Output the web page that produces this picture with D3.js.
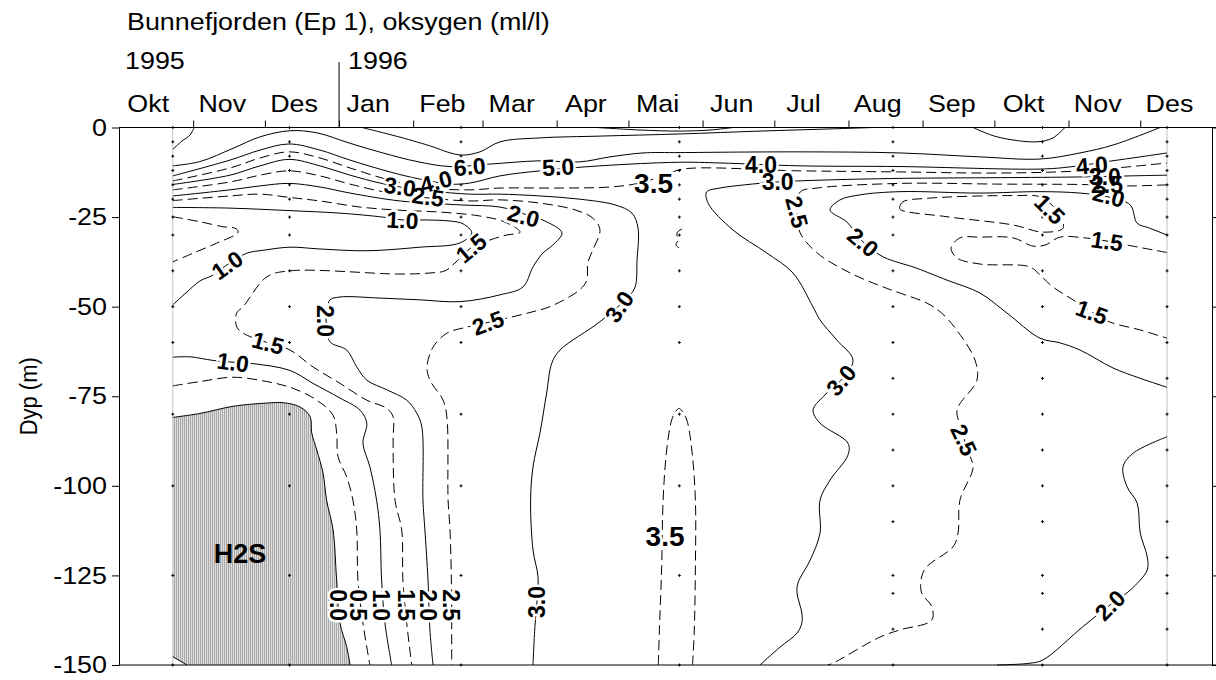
<!DOCTYPE html>
<html>
<head>
<meta charset="utf-8">
<title>Bunnefjorden oksygen</title>
<script src="https://d3js.org/d3.v7.min.js"></script>
<style>
  body { margin: 0; background: #fff; }
  svg { display: block; }
  text { font-family: "Liberation Sans", Arial, sans-serif; }
</style>
</head>
<body>
<svg id="chart" width="1216" height="680"></svg>
<script>
// ---- data: days since 1 Oct 1995, depth in m ----
const months = ["Jan","Feb","Mar","Apr","Mai","Jun","Jul","Aug","Sep","Okt","Nov","Des"];
const depthTicks = [0, -25, -50, -75, -100, -125, -150];

const stationDays = [22.5, 71.3, 143, 234.3, 323.6, 386.1, 438.2];
const depthsA = [0,4,8,12,16,20,25,30,40,50,60,80,100,125,150];
const depthsB = [0,4,8,12,16,20,25,30,40,50,60,70,80,90,100,110,125,130,140,150];
const depthsC = [0,4,8,12,16,20,25,30,40,50,60,70,80,90,100,110,120,125,130,140,150];
const stationDepths = [depthsA, depthsA, depthsA, depthsA, depthsB, depthsB, depthsC];

// contour lines [day, depth]
const c60tl = [[31.4,0],[29.7,-2.1],[26.3,-3.8],[22.5,-6.1]];
const c60top = [[101.6,0],[117.5,-2.7],[131.3,-5.4],[137.1,-6.8],[143.4,-7.7],[150.9,-6.8],[159.3,-4],[176,-2.9],[201.1,-2.4],[234.6,-1.8],[268,-1],[297.3,-0.4],[315.3,0]];
const c70may = [[199.8,0],[217.9,-0.7],[234.6,-1],[247.1,-0.7],[256.7,0]];
const c60okt = [[357.1,0],[367.1,-2.6],[383.8,-4],[390.5,-2.9],[395.5,0]];
const c50 = [[22.5,-10.7],[33.9,-9.5],[47.7,-5.8],[59,-2.6],[71.5,-0.9],[82.8,-1.5],[96.6,-4.4],[110.3,-7.1],[124.6,-9.5],[138.4,-10.9],[155.1,-10.2],[176,-9.3],[192.6,-9.6],[205.3,-8.2],[219.1,-7.1],[234.6,-7],[284.8,-6.8],[326.5,-7.1],[360,-8.2],[385.1,-8.8],[401.8,-7.1],[415.6,-4.9],[435.3,0]];
const c40 = [[22.5,-13.5],[46.4,-9.1],[59,-6.3],[71.1,-4.6],[84,-6.3],[96.6,-9.1],[113.3,-12.4],[125.8,-14.4],[138.4,-15.8],[146.7,-15.5],[159.3,-13.5],[176,-12.1],[201.1,-10.7],[234.2,-9.7],[251.3,-9.9],[284.8,-10.7],[326.5,-10.9],[385.1,-11.6],[397.6,-11],[414.3,-9.4],[427,-8.2],[438.2,-7.1]];
const c35 = [[22.5,-14.9],[46.4,-11.3],[59,-8.5],[71.1,-6.8],[84,-8.5],[96.6,-11.3],[113.3,-14.7],[130,-16.9],[146.7,-17.4],[159.3,-16.9],[184.4,-16.9],[205.3,-16.6],[217.9,-15.5],[228.3,-13.3],[235.8,-11.6],[284.8,-12.1],[326.5,-12.4],[368.4,-12.7],[401.8,-12.1],[438.2,-9.9]];
const c30 = [[22.5,-15.9],[46.4,-13.3],[59,-10.7],[71.1,-8.9],[84,-10.7],[96.6,-13.3],[109.1,-15.5],[117.5,-16.6],[130,-17.7],[146.7,-18.6],[159.3,-18.6],[176,-19.1],[192.6,-20],[207.4,-21.6],[214.5,-23.9],[217,-28],[216.6,-37],[215.8,-44.5],[212.8,-47.3],[201.1,-54.2],[184.4,-62.1],[181,-65.7],[178.8,-74.1],[176,-85.3],[173.1,-94.7],[172.1,-104],[173.1,-117.9],[175.2,-125.4],[174.8,-131.9],[173.9,-139.3],[173.1,-150]];
const c25a = [[22.5,-17.4],[46.4,-15.2],[59,-13.3],[71.1,-12.1],[84,-13.5],[96.6,-15.8],[113.3,-18.3],[130,-19.7],[146.7,-20.5],[159.3,-20.2],[176,-21.1],[190.7,-23],[198.1,-25.3],[201.1,-28.6],[198.1,-34.2],[196,-37.8],[195.6,-42.6],[192.6,-45.3],[180.2,-50],[173.1,-51.4],[164.7,-52.8],[155.1,-54.3],[145.5,-55.7],[137.1,-57.4],[131.3,-61.3],[128.8,-66.8],[130,-70.5],[135.5,-76.1],[137.1,-80.9],[137.6,-104],[138.4,-112.3],[139.1,-131.9],[139.1,-140.2],[139.1,-150]];
const c20a = [[22.5,-19.1],[46.4,-17.4],[59,-16.3],[71.1,-15.6],[84,-16.6],[96.6,-18.3],[117.5,-20.5],[142.6,-21.6],[159.3,-22.2],[169.3,-24.1],[178.1,-26.1],[185.2,-29.4],[181.4,-32.8],[177.3,-35],[173.1,-38.9],[168.9,-44.5],[159.3,-46.7],[142.6,-48.6],[125.8,-48.1],[109.1,-47.6],[92.4,-47.3],[88.2,-48.1],[87,-50.9],[86.6,-54.3],[88.2,-59.8],[95.2,-62.1],[99.4,-66.8],[103.6,-70.5],[112,-73.2],[120.3,-76.1],[124.5,-79.7],[126.6,-83.5],[127.1,-104],[127.9,-112.3],[129.2,-126.3],[130,-140.2],[131.3,-150]];
const c15a = [[22.5,-20.4],[46.4,-19.1],[59,-18.6],[71.1,-19.5],[84,-20.5],[100.8,-22.2],[117.5,-23.1],[134.2,-23.6],[150.9,-24.7],[161.4,-26.4],[167.7,-29.2],[161.4,-30.1],[155.1,-31.4],[147.2,-33.6],[140.5,-37.8],[136.3,-40],[130,-40.6],[117.5,-40.9],[71.5,-40],[61.8,-41.7],[51.9,-50],[49.2,-51.8],[49.2,-55.6],[51.9,-57.4],[62.3,-60.1],[71.5,-62.1],[81.1,-66.8],[92.4,-71.4],[103.6,-76.1],[112,-78.4],[114.6,-80.7],[114.6,-87.2],[115.4,-104],[118.2,-112.3],[118.7,-126.3],[120.3,-138.3],[122.4,-150]];
const c10a = [[22.5,-22.3],[46.4,-22.5],[71.5,-23.2],[92.4,-23.9],[110.3,-25],[118.7,-25.8],[127.1,-25.8],[138.4,-26.1],[143.9,-26.9],[147.5,-29.4],[142.6,-32.2],[125.8,-33.4],[103.7,-34.4],[84,-33.9],[71.5,-33.4],[61,-34.2],[53.4,-35.1],[45.6,-38.1],[39.3,-41.2],[33.9,-42.8],[28.4,-45.9],[22.5,-49.5]];
const c05a = [[22.5,-24.9],[33.9,-26.3],[43.5,-27.7],[48.5,-28.1],[49.8,-28.9],[49.6,-29.5],[40.8,-32.3],[30.9,-35.1],[22.5,-37.5]];
const c10b = [[22.5,-64.1],[29.7,-64],[39.3,-65],[47.7,-65.5],[56,-65.9],[71.5,-67.8],[81.1,-71.4],[92.4,-75.5],[100.8,-78.9],[103.6,-82.5],[102,-88.1],[104.9,-94.7],[107.7,-104],[109.1,-112.3],[109.8,-126.3],[111.2,-138.3],[114,-150]];
const c05b = [[22.5,-72.1],[33.9,-70.9],[47.7,-69.7],[61.8,-70.9],[72.8,-72.8],[82.7,-76.1],[89.5,-80.3],[91,-85.3],[91.6,-91.9],[95.2,-97.5],[97.8,-104],[99.4,-112.3],[99.9,-126.3],[102,-138.3],[104.9,-150]];
const c00 = [[22.5,-80.9],[33.9,-79.8],[47.7,-77.8],[61.8,-76.9],[68.6,-76.8],[75.7,-78],[79.9,-80.7],[80.6,-85.3],[82.7,-90],[85.3,-96.4],[86.8,-104],[89.5,-112.3],[91,-126.3],[92.4,-138.3],[95.2,-144.9],[96.6,-150]];
const c00b = [[22.5,-147.7],[28.4,-150]];
const c30b = [[438.2,-13.3],[422.8,-13.5],[401.8,-13.8],[368.4,-14],[326.5,-14.2],[293.1,-14.7],[275.1,-15.2],[261.7,-16],[251.3,-16.9],[245.7,-18],[246.3,-21.1],[256.7,-28.6],[270.8,-35],[281.8,-40.6],[290.2,-50.1],[293.1,-53.7],[300.1,-59.3],[306.9,-64.9],[301.9,-70.5],[294.4,-75.1],[290.2,-78.9],[293.1,-82.5],[304.8,-88.1],[304.8,-91.4],[297.3,-98.4],[293.1,-104],[293.1,-113.2],[289,-120.7],[283.9,-127.1],[283.5,-129.9],[285.5,-135.5],[285.5,-138.3],[283.5,-141.1],[276.4,-145],[268,-150]];
const c25b = [[438.2,-16],[422.8,-16.3],[401.8,-15.9],[368.4,-15.8],[326.5,-15.6],[291.9,-16.9],[284.8,-18],[283.5,-23.6],[284.8,-29.4],[291.9,-35],[305.7,-40.6],[319.5,-44.5],[326.5,-46.2],[337.8,-49],[344,-51.8],[350.2,-56.5],[357.9,-64.9],[358.7,-70.5],[350.4,-78.9],[352.5,-84.4],[354.6,-90],[357.1,-94.7],[351.6,-104],[350.8,-113.2],[348.7,-117],[337.7,-122.6],[335.6,-125.4],[335.6,-129.9],[339.8,-133.7],[339.8,-137.5],[326.5,-140.2],[318.2,-142.2],[298.5,-149.5],[296.4,-150]];
const c20b = [[438.2,-30],[430.6,-28],[425.7,-26.7],[422.8,-21.6],[413.9,-19.4],[401.8,-18.3],[385.1,-17.9],[360,-18.3],[326.5,-17.9],[309.8,-18.8],[301.5,-20.2],[297.3,-23],[304.4,-26.4],[311.1,-32],[319.5,-36.1],[326.5,-37.8],[332,-38.9],[346.2,-42.6],[360,-46.2],[371.3,-51.8],[385.1,-58.8],[393.4,-60.1],[401.8,-62.1],[415.6,-67.1],[427,-70],[438.2,-72.5]];
const c15c = [[326.5,-21.9],[327.8,-20.7],[339.1,-19.7],[373.8,-19],[385.1,-19.3],[389.2,-21.1],[393.4,-24.4],[394.7,-28.1],[386.3,-29.2],[373.8,-27.2],[346.2,-24.9],[326.5,-22.8],[326.5,-21.9]];
const c15d = [[438.2,-34.9],[421.5,-32.8],[413.1,-31.7],[403.9,-30.8],[393.4,-30.6],[387.2,-32.8],[382.2,-33.1],[373.8,-30.8],[360,-30.6],[351.6,-30.8],[347.9,-33.6],[350.4,-36.4],[360,-38.1],[380.9,-38.9],[385.1,-41.2],[390.5,-44.5],[398.9,-48.1],[406.8,-51.5],[414.3,-54.3],[427,-56.5],[438.2,-58.8]];
const c20c = [[438.2,-86.3],[424,-90.9],[419.8,-94.7],[421.5,-100.3],[425.7,-104.8],[427,-113.2],[429.9,-119.8],[429.9,-123.5],[422.8,-129.1],[414.3,-133.3],[403,-139.3],[386.3,-148.6],[380.9,-149.5],[367.1,-150]];
const c35b = [[225.5,-150],[225.9,-141.1],[226.9,-122.6],[227.5,-104],[229,-90],[231.1,-81.6],[232.9,-79.1],[234.2,-78.4],[235.4,-79.1],[237.4,-81.6],[239.5,-90],[241,-104],[241,-122.6],[240.5,-141.1],[239.8,-150]];
const c35c = [[235.4,-28.3],[233.3,-29.4],[233.7,-31.4],[232.9,-32.8],[234.2,-33.6]];

const contours = [
  {lev: 6.0, pts: c60tl}, {lev: 6.0, pts: c60top}, {lev: 7.0, pts: c70may}, {lev: 6.0, pts: c60okt},
  {lev: 5.0, pts: c50}, {lev: 4.0, pts: c40}, {lev: 3.5, pts: c35}, {lev: 3.0, pts: c30},
  {lev: 2.5, pts: c25a}, {lev: 2.0, pts: c20a}, {lev: 1.5, pts: c15a}, {lev: 1.0, pts: c10a},
  {lev: 0.5, pts: c05a}, {lev: 1.0, pts: c10b}, {lev: 0.5, pts: c05b}, {lev: 0.0, pts: c00},
  {lev: 0.0, pts: c00b}, {lev: 3.0, pts: c30b}, {lev: 2.5, pts: c25b}, {lev: 2.0, pts: c20b},
  {lev: 1.5, pts: c15c}, {lev: 1.5, pts: c15d}, {lev: 2.0, pts: c20c}, {lev: 3.5, pts: c35b},
  {lev: 3.5, pts: c35c}
];

// [text, day, depth, angle, size]
const labels = [
  ["6.0",146.6,-10.9,-5,23], ["5.0",183.6,-11,-3,23], ["3.0",117.5,-16.5,8,23], ["4.0",132.5,-15.1,-15,23],
  ["2.5",129.2,-19.3,8,23], ["1.0",118.5,-25.8,3,23], ["2.0",169.2,-24.7,15,23], ["1.5",147.2,-33.6,-40,23],
  ["1.0",45.2,-38.4,-35,23], ["1.5",62.3,-60.1,15,23], ["1.0",47.7,-65.5,8,23], ["2.0",86.1,-54,90,23],
  ["2.5",154.3,-54.5,-20,23], ["3.0",209.1,-50,-55,23], ["3.0",174.8,-132.4,-90,23], ["3.5",228.3,-114,0,28],
  ["3.5",223.5,-15.5,0,28], ["4.0",268.4,-10.3,0,23], ["3.0",275.4,-15.1,0,23], ["2.5",283.5,-23.6,75,23],
  ["2.0",311.1,-32,40,23], ["3.0",301.9,-70.5,-50,23], ["2.5",353.3,-87.2,65,23], ["4.0",406.8,-10.5,-5,23],
  ["3.0",412.2,-13.7,0,23], ["2.5",413.1,-15.9,0,23], ["2.0",413.9,-19.1,15,23], ["1.5",389.2,-22.8,45,23],
  ["1.5",413.1,-31.7,8,23], ["1.5",406.8,-51.5,20,23], ["2.0",414.3,-133.3,-45,23],
  ["0.0",91.7,-133.3,90,23], ["0.5",100.2,-133.3,90,23], ["1.0",109.8,-133.3,90,23],
  ["1.5",120.2,-133.3,90,23], ["2.0",129.4,-133.3,90,23], ["2.5",139,-133.3,90,23]
];

// ---- scales ----
const t0 = new Date(Date.UTC(1995, 9, 1));
const dd = d => new Date(t0.getTime() + d * 864e5);
const x = d3.scaleUtc().domain([t0, dd(457)]).range([119, 1212]);
const y = d3.scaleLinear().domain([0, -150]).range([127.5, 665]);
const sx = 1.12; // text is drawn a little wide

const svg = d3.select("#chart");

const defs = svg.append("defs");
const pat = defs.append("pattern").attr("id", "hatch")
  .attr("patternUnits", "userSpaceOnUse").attr("width", 2).attr("height", 4);
pat.append("rect").attr("width", 2).attr("height", 4).attr("fill", "#dedede");
pat.append("rect").attr("width", 1).attr("height", 4).attr("fill", "#a8a8a8");

const line = d3.line()
  .x(p => x(dd(p[0])))
  .y(p => y(p[1]))
  .curve(d3.curveCatmullRom.alpha(0.5));

// H2S area
svg.append("path")
  .attr("d", line(c00) + "L" + x(dd(28.4)) + "," + y(-150) + "L" + x(dd(22.5)) + "," + y(-147.7) + "Z")
  .attr("fill", "url(#hatch)");

// first and last station
svg.append("g").selectAll("line")
  .data([stationDays[0], stationDays[6]])
  .join("line")
  .attr("x1", d => x(dd(d))).attr("x2", d => x(dd(d)))
  .attr("y1", y(0)).attr("y2", y(-150))
  .attr("stroke", "#c4c4c4").attr("stroke-width", 1);

// contour lines
svg.append("g").selectAll("path")
  .data(contours)
  .join("path")
  .attr("d", d => line(d.pts))
  .attr("fill", "none")
  .attr("stroke", "#000")
  .attr("stroke-width", 1)
  .attr("stroke-dasharray", d => (d.lev % 1 !== 0) ? "10,5" : null);

// sample points
const pts = [];
stationDays.forEach((s, i) => stationDepths[i].forEach(z => pts.push([s, -z])));
svg.append("g").selectAll("path")
  .data(pts)
  .join("path")
  .attr("transform", d => `translate(${x(dd(d[0]))},${y(d[1])})`)
  .attr("d", "M-1.5,0H1.5M0,-1.5V1.5")
  .attr("stroke", "#000").attr("stroke-width", 1);

// contour labels: halos first, then text
const labPos = d => `translate(${x(dd(d[1]))},${y(d[2])}) rotate(${d[3]})`;
svg.append("g").selectAll("text")
  .data(labels)
  .join("text")
  .attr("transform", labPos)
  .attr("text-anchor", "middle").attr("dy", "0.36em")
  .attr("font-size", d => d[4]).attr("font-weight", "bold")
  .attr("fill", "#fff").attr("stroke", "#fff").attr("stroke-width", 5)
  .text(d => d[0]);
svg.append("g").selectAll("text")
  .data(labels)
  .join("text")
  .attr("transform", labPos)
  .attr("text-anchor", "middle").attr("dy", "0.36em")
  .attr("font-size", d => d[4]).attr("font-weight", "bold")
  .attr("fill", "#000")
  .text(d => d[0]);

svg.append("text")
  .attr("x", x(dd(50.6))).attr("y", y(-118.8))
  .attr("text-anchor", "middle").attr("dy", "0.36em")
  .attr("font-size", 27).attr("font-weight", "bold")
  .text("H2S");

// ---- axes ----
const yTop = y(0), yBot = y(-150);

// left axis
const gl = svg.append("g").attr("transform", `translate(${x.range()[0]},0)`)
  .call(d3.axisLeft(y).tickValues(depthTicks).tickSize(7).tickSizeOuter(0).tickPadding(5).tickFormat(d => String(d)));
gl.selectAll("text").attr("font-size", 24).attr("font-family", "Liberation Sans, Arial, sans-serif")
  .attr("x", -12 / sx).attr("transform", `scale(${sx},1)`);

// right axis
svg.append("g").attr("transform", `translate(${x.range()[1]},0)`)
  .call(d3.axisRight(y).tickValues(depthTicks).tickSize(7).tickSizeOuter(0).tickFormat(""));

// top axis: month ticks
const monthStarts = d3.utcMonth.range(dd(31), dd(457));
const gt = svg.append("g").attr("transform", `translate(0,${yTop})`)
  .call(d3.axisTop(x).tickValues(monthStarts).tickSize(7).tickSizeOuter(0).tickFormat(""));
gt.select(".domain").remove();

// month names, centred a little before mid-month
const monthMids = d3.utcMonth.range(t0, dd(457)).map(m => d3.utcDay.offset(m, 12.5));
const gm = svg.append("g").attr("transform", `translate(0,${yTop})`)
  .call(d3.axisTop(x).tickValues(monthMids).tickSize(0).tickPadding(16)
    .tickFormat(d => months[d.getUTCMonth()]));
gm.select(".domain").remove();
gm.selectAll("text").attr("font-size", 24).attr("font-family", "Liberation Sans, Arial, sans-serif")
  .attr("transform", `scale(${sx},1)`);

// frame lines top and bottom
svg.append("line").attr("x1", x.range()[0]).attr("x2", 1216).attr("y1", yTop).attr("y2", yTop)
  .attr("stroke", "#000");
svg.append("line").attr("x1", x.range()[0]).attr("x2", 1216).attr("y1", yBot).attr("y2", yBot)
  .attr("stroke", "#000");

// year marks
const jan96 = new Date(Date.UTC(1996, 0, 1));
svg.append("line").attr("x1", x(jan96)).attr("x2", x(jan96)).attr("y1", 62).attr("y2", yTop)
  .attr("stroke", "#000");

function wideText(tx, ty, str, size) {
  svg.append("text")
    .attr("transform", `translate(${tx},${ty}) scale(${sx},1)`)
    .attr("font-size", size)
    .text(str);
}
wideText(125, 69, "1995", 24);
wideText(x(jan96) + 9, 69, "1996", 24);
wideText(127, 29.5, "Bunnefjorden (Ep 1), oksygen (ml/l)", 24);

// y label
svg.append("text")
  .attr("transform", `translate(37,${(yTop + yBot) / 2}) rotate(-90) scale(1,${sx})`)
  .attr("text-anchor", "middle")
  .attr("font-size", 22)
  .text("Dyp (m)");
</script>
</body>
</html>
